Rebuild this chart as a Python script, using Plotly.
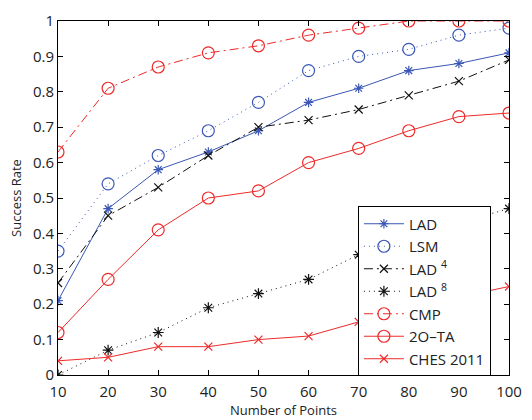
import plotly.graph_objects as go

# Number of points on the x axis
points = [10, 20, 30, 40, 50, 60, 70, 80, 90, 100]

# Success rate of each method
lad = [0.21, 0.47, 0.58, 0.63, 0.69, 0.77, 0.81, 0.86, 0.88, 0.91]
lsm = [0.35, 0.54, 0.62, 0.69, 0.77, 0.86, 0.90, 0.92, 0.96, 0.98]
lad4 = [0.26, 0.45, 0.53, 0.62, 0.70, 0.72, 0.75, 0.79, 0.83, 0.89]
lad8 = [0.00, 0.07, 0.12, 0.19, 0.23, 0.27, 0.34, 0.38, 0.43, 0.47]
cmp_ = [0.63, 0.81, 0.87, 0.91, 0.93, 0.96, 0.98, 1.00, 1.00, 1.00]
o2ta = [0.12, 0.27, 0.41, 0.50, 0.52, 0.60, 0.64, 0.69, 0.73, 0.74]
ches = [0.04, 0.05, 0.08, 0.08, 0.10, 0.11, 0.15, 0.18, 0.22, 0.25]

x_ticks = [10, 20, 30, 40, 50, 60, 70, 80, 90, 100]
y_ticks = [0, 0.1, 0.2, 0.3, 0.4, 0.5, 0.6, 0.7, 0.8, 0.9, 1]
y_tick_text = ["0", "0.1", "0.2", "0.3", "0.4", "0.5", "0.6", "0.7", "0.8", "0.9", "1"]

BLUE = "#3a57b5"
RED = "#ee2a2a"
BLACK = "#111111"

DOT = "1px,4px"
DASHDOT = "9px,4px,2px,4px"

series = [
    ("LAD", lad, BLUE, "solid", "asterisk-open", 8),
    ("LSM", lsm, BLUE, DOT, "circle-open", 12),
    ("LAD <sup>4</sup>", lad4, BLACK, DASHDOT, "x-thin-open", 8),
    ("LAD <sup>8</sup>", lad8, BLACK, DOT, "asterisk-open", 9),
    ("CMP", cmp_, RED, DASHDOT, "circle-open", 12),
    ("2O\u2013TA", o2ta, RED, "solid", "circle-open", 12),
    ("CHES 2011", ches, RED, "solid", "x-thin-open", 8),
]

fig = go.Figure()
for name, vals, color, dash, symbol, size in series:
    fig.add_trace(go.Scatter(
        x=points, y=vals, name=name, mode="lines+markers",
        line=dict(color=color, width=1, dash=dash),
        marker=dict(symbol=symbol, size=size, color=color,
                    line=dict(color=color, width=1.2)),
    ))

font_family = "Open Sans, Lato, sans-serif"
fig.update_layout(
    width=532, height=420,
    margin=dict(l=58, r=17, t=10, b=43),
    paper_bgcolor="white", plot_bgcolor="white",
    font=dict(family=font_family, size=15, color="#222"),
    showlegend=True,
    legend=dict(
        x=0.665, y=0.476, xanchor="left", yanchor="top",
        bgcolor="white", bordercolor="black", borderwidth=1,
        font=dict(size=15, color="#222"),
        itemwidth=40, tracegroupgap=0,
    ),
    xaxis=dict(
        range=[10, 100], tickvals=x_ticks, ticks="inside", ticklen=5,
        showgrid=False, zeroline=False, showline=True, linecolor="black",
        linewidth=1, mirror="ticks", tickcolor="black", ticklabelstandoff=3,
        title=dict(text="Number of Points", font=dict(size=13), standoff=0),
    ),
    yaxis=dict(
        range=[0, 1], tickvals=y_ticks, ticktext=y_tick_text, ticks="inside",
        ticklen=5, showgrid=False, zeroline=False, showline=True,
        linecolor="black", linewidth=1, mirror="ticks", tickcolor="black",
        title=dict(text="Success Rate", font=dict(size=13), standoff=8),
    ),
)

fig.write_html("out.html")
